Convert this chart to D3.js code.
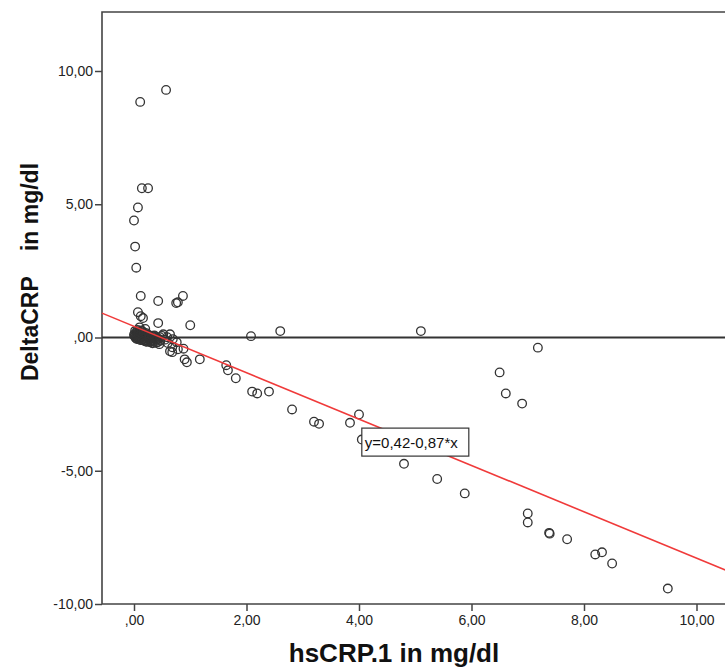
<!DOCTYPE html>
<html>
<head>
<meta charset="utf-8">
<script src="https://cdn.jsdelivr.net/npm/d3@7"></script>
<style>
  body { margin: 0; background: #fff; }
  text { font-family: "Liberation Sans", Arial, sans-serif; }
</style>
</head>
<body>
<div id="graph"></div>
<script>
// values
var hsCRP = [0.11, 0.57, 0.14, 0.25, 0.07, 0.00, 0.02, 0.04, 0.12, 0.43, 0.75, 0.78, 0.87, 1.00,
  0.07, 0.12, 0.16, 0.43, 0.10, 0.20,
  0.00, 0.01, 0.02, 0.03, 0.04, 0.05, 0.06, 0.07, 0.08, 0.09, 0.10, 0.11, 0.12, 0.13, 0.14, 0.15,
  0.16, 0.17, 0.18, 0.19, 0.20, 0.21, 0.22, 0.23, 0.24, 0.25, 0.27, 0.28, 0.30, 0.31, 0.33, 0.35,
  0.37, 0.38, 0.40, 0.42, 0.44, 0.47,
  0.02, 0.05, 0.09, 0.14, 0.18, 0.22, 0.26, 0.29, 0.34, 0.39, 0.06, 0.13, 0.21, 0.32,
  0.03, 0.08, 0.12, 0.17, 0.23, 0.28, 0.33, 0.36, 0.41, 0.45, 0.50, 0.55,
  0.52, 0.64, 0.59, 0.46, 0.69, 0.76, 0.60, 0.68, 0.64, 0.68, 0.78, 0.88, 0.90, 0.94, 1.17,
  2.08, 2.60, 5.10,
  1.64, 1.67, 1.81, 2.10, 2.19, 2.40, 2.81, 3.20, 3.29, 3.84, 4.00, 4.05, 4.80, 5.39, 5.88,
  7.00, 7.00, 7.38, 7.39, 7.70, 8.20, 8.32, 8.50, 9.49,
  7.18, 6.50, 6.61, 6.90];
var deltaCRP = [8.84, 9.29, 5.60, 5.60, 4.88, 4.39, 3.41, 2.62, 1.56, 1.37, 1.29, 1.32, 1.56, 0.46,
  0.95, 0.80, 0.73, 0.54, 0.38, 0.32,
  0.10, 0.05, 0.15, -0.02, 0.08, 0.20, 0.00, 0.12, -0.05, 0.05, 0.18, -0.03, 0.08, 0.02, -0.08, 0.12,
  0.04, -0.06, 0.10, -0.02, 0.06, -0.10, 0.02, -0.05, 0.08, -0.12, 0.00, -0.08, -0.04, -0.14, -0.02, -0.10,
  -0.16, 0.02, -0.08, -0.18, -0.05, -0.12,
  0.25, -0.06, 0.22, 0.24, -0.12, 0.16, 0.10, -0.18, 0.06, -0.20, 0.28, 0.26, -0.15, 0.05,
  0.02, 0.14, -0.10, 0.20, -0.16, 0.05, -0.22, 0.08, -0.02, -0.25, 0.06, -0.08,
  0.12, 0.12, 0.01, 0.01, -0.06, -0.18, -0.21, -0.37, -0.52, -0.55, -0.44, -0.42, -0.82, -0.93, -0.82,
  0.05, 0.24, 0.24,
  -1.04, -1.23, -1.53, -2.03, -2.10, -2.03, -2.70, -3.16, -3.24, -3.20, -2.89, -3.83, -4.74, -5.31, -5.85,
  -6.60, -6.94, -7.33, -7.36, -7.57, -8.14, -8.06, -8.48, -9.42,
  -0.38, -1.31, -2.10, -2.48];
var xTicks = [0, 2, 4, 6, 8, 10];
var yTicks = [-10, -5, 0, 5, 10];
var intercept = 0.42;
var slope = -0.87;
var fitLabel = "y=0,42-0,87*x";

var width = 725, height = 670;

var svg = d3.select("#graph")
  .append("svg")
    .attr("width", width)
    .attr("height", height);

var x = d3.scaleLinear()
  .domain([0, 10])
  .range([134, 696.5]);
var y = d3.scaleLinear()
  .domain([-10, 10])
  .range([604, 71]);

var plotLeft = 102, plotTop = 12, plotBottom = 604, plotRight = width + 5;
var xLo = x.invert(plotLeft), xHi = x.invert(plotRight);

// SPSS style: comma decimals, no leading zero for 0, plain hyphen minus
var fmt = function(v) {
  var s = d3.format(".2f")(v).replace(".", ",").replace("\u2212", "-");
  if (s.indexOf("0,") == 0) s = s.slice(1);
  return s;
};

// x axis
var gx = svg.append("g")
  .attr("transform", "translate(0," + plotBottom + ")")
  .call(d3.axisBottom(x).tickValues(xTicks).tickSize(7).tickPadding(4).tickFormat(fmt));
gx.select(".domain").remove();
gx.selectAll("text").attr("font-size", 14).attr("fill", "#222");
gx.selectAll("line").attr("stroke", "#444").attr("stroke-width", 1.5);

// y axis
var gy = svg.append("g")
  .attr("transform", "translate(" + plotLeft + ",0)")
  .call(d3.axisLeft(y).tickValues(yTicks).tickSize(7).tickPadding(2).tickFormat(fmt));
gy.select(".domain").remove();
gy.selectAll("text").attr("font-size", 14).attr("fill", "#222");
gy.selectAll("line").attr("stroke", "#444").attr("stroke-width", 1.5);

// frame
svg.append("path")
  .attr("d", "M" + plotRight + "," + plotTop + "H" + plotLeft + "V" + plotBottom + "H" + plotRight)
  .attr("fill", "none")
  .attr("stroke", "#444")
  .attr("stroke-width", 1.6);

// zero line
svg.append("line")
  .attr("x1", plotLeft).attr("x2", plotRight)
  .attr("y1", y(0)).attr("y2", y(0))
  .attr("stroke", "#333")
  .attr("stroke-width", 2);

// points
svg.append("g")
  .selectAll("circle")
  .data(hsCRP)
  .enter()
  .append("circle")
    .attr("cx", function(d) { return x(d) })
    .attr("cy", function(d, i) { return y(deltaCRP[i]) })
    .attr("r", 4.3)
    .attr("fill", "none")
    .attr("stroke", "#333")
    .attr("stroke-width", 1.3);

// fit line
svg.append("path")
  .datum([xLo, xHi])
  .attr("fill", "none")
  .attr("stroke", "#f03a3a")
  .attr("stroke-width", 1.6)
  .attr("d", d3.line()
    .x(function(d) { return x(d) })
    .y(function(d) { return y(intercept + slope * d) })
  );

// fit label box
var lab = svg.append("g")
  .attr("transform", "translate(" + x(4.05) + "," + y(-3.4) + ")");
lab.append("rect")
  .attr("width", 107).attr("height", 28)
  .attr("fill", "#fff")
  .attr("stroke", "#333")
  .attr("stroke-width", 1.2);
lab.append("text")
  .attr("x", 3).attr("y", 20)
  .attr("font-size", 15)
  .attr("fill", "#111")
  .text(fitLabel);

// axis titles
svg.append("text")
  .attr("x", 394).attr("y", 662)
  .attr("text-anchor", "middle")
  .attr("font-size", 26)
  .attr("font-weight", "bold")
  .attr("fill", "#111")
  .text("hsCRP.1 in mg/dl");

svg.append("text")
  .attr("transform", "translate(38,272) rotate(-90)")
  .attr("text-anchor", "middle")
  .attr("font-size", 23)
  .attr("font-weight", "bold")
  .attr("fill", "#111")
  .style("white-space", "pre")
  .text("DeltaCRP    in mg/dl");
</script>
</body>
</html>
